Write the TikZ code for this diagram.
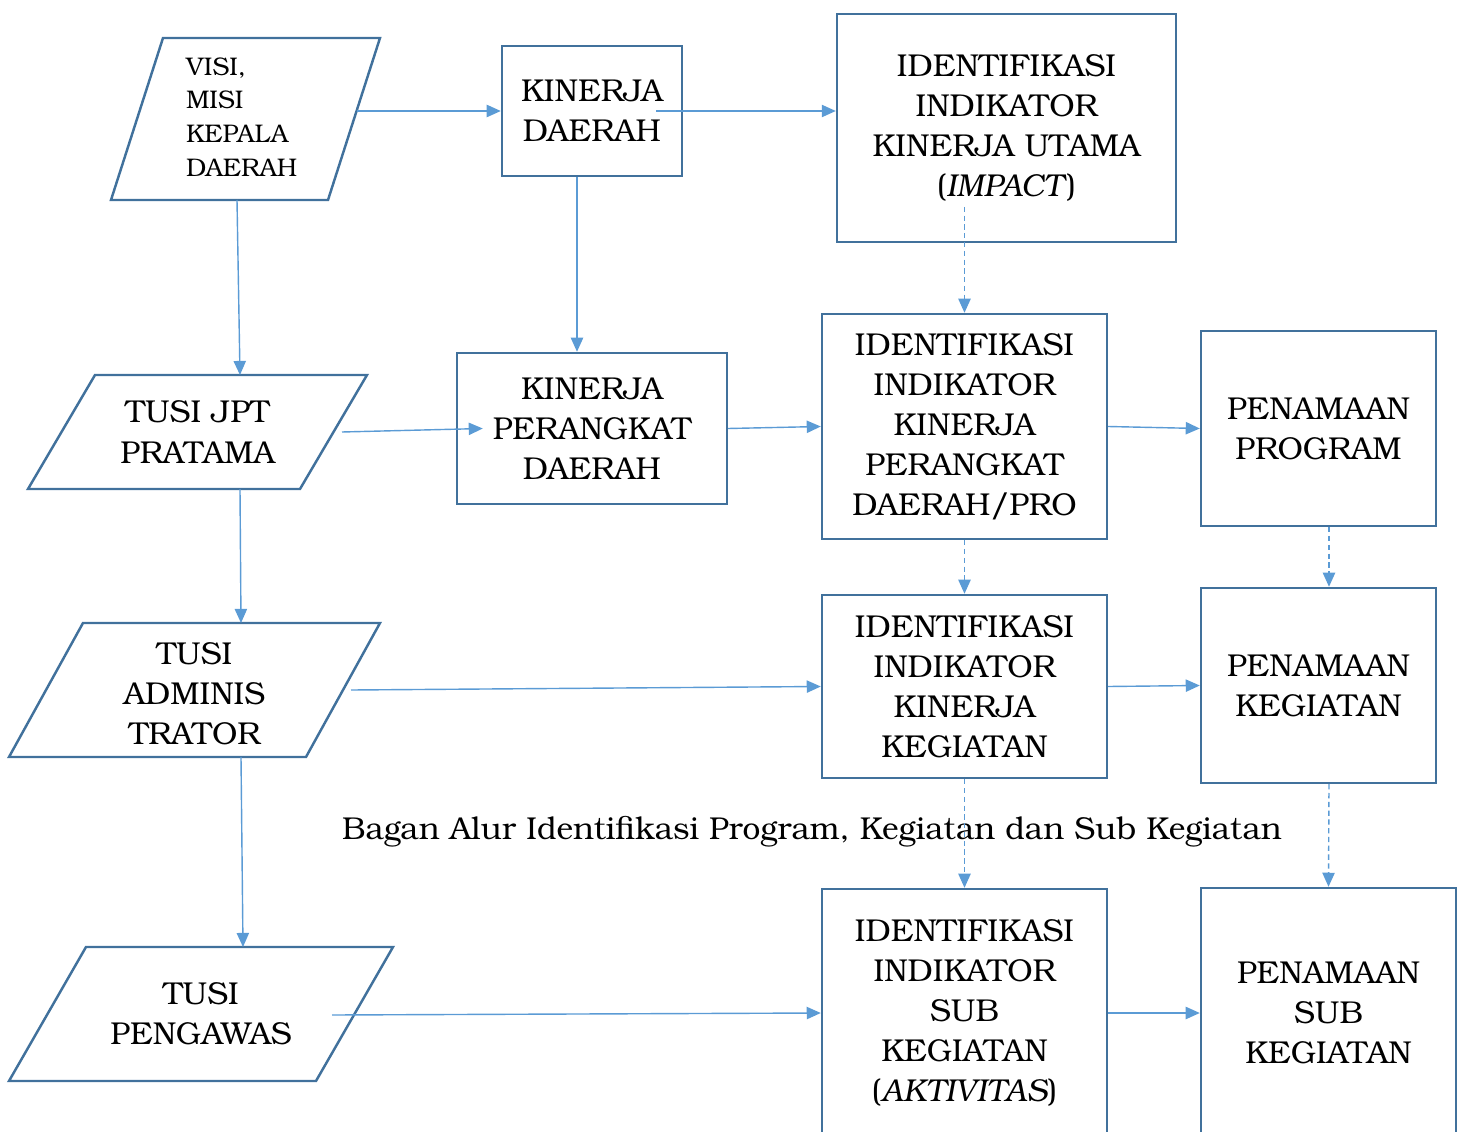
\documentclass[tikz,border=0pt]{standalone}
\usepackage{fontspec}
\setmainfont{TeX Gyre Bonum}
\usetikzlibrary{calc}
\usetikzlibrary{arrows.meta}
\definecolor{boxblue}{RGB}{65,113,156}
\definecolor{linkblue}{RGB}{91,155,213}
\tikzset{
 garis/.style={draw=boxblue, line width=1.4pt},
 kotak/.style={garis, rectangle, inner sep=0, align=center},
 tekspar/.style={inner sep=0, align=center},
 alur/.style={linkblue, line width=0.8pt, -{Triangle[length=8pt,width=7pt]}},
 alurputus/.style={alur, dash pattern=on 3pt off 2pt},
}

\begin{document}
\begin{tikzpicture}[x=0.02cm, y=-0.02cm, font=\fontsize{18}{22.8}\selectfont]
\useasboundingbox (0,0) rectangle (1465,1132);
\foreach \cx/\cy/\w/\h/\s in {245.5/119/217/162/52, 197.5/432/272/114/67, 194.5/690/297/134/74, 201/1014/307/134/77}
 \draw[garis] ({\cx-\w/2+\s/2},{\cy-\h/2}) -- ({\cx+\w/2+\s/2},{\cy-\h/2}) -- ({\cx+\w/2-\s/2},{\cy+\h/2}) -- ({\cx-\w/2-\s/2},{\cy+\h/2}) -- cycle;
\node[tekspar, text width=2.38cm, align=left, font=\fontsize{14.5}{19.2}\selectfont] (visi) at (245.5,117) {VISI,\\MISI\\KEPALA\\DAERAH};
\node[tekspar] (tjpt) at (197.5,432) {TUSI JPT\\PRATAMA};
\node[tekspar] (tadm) at (194.5,694) {TUSI\\ADMINIS\\TRATOR};
\node[tekspar] (tpeng) at (201,1014) {TUSI\\PENGAWAS};

\node[kotak, minimum width=3.6cm, minimum height=2.6cm] (kd) at (592,111) {KINERJA\\DAERAH};
\node[kotak, minimum width=6.78cm, minimum height=4.56cm] (iku) at (1006.5,128) {IDENTIFIKASI\\INDIKATOR\\KINERJA UTAMA\\(\textit{IMPACT})};
\node[kotak, minimum width=5.4cm, minimum height=3.02cm] (kpd) at (592,428.5) {KINERJA\\PERANGKAT\\DAERAH};
\node[kotak, minimum width=5.7cm, minimum height=4.5cm] (ipd) at (964.5,426.5) {IDENTIFIKASI\\INDIKATOR\\KINERJA\\PERANGKAT\\DAERAH/PRO};
\node[kotak, minimum width=4.7cm, minimum height=3.9cm] (pp) at (1318.5,428.5) {PENAMAAN\\PROGRAM};
\node[kotak, minimum width=5.7cm, minimum height=3.66cm] (ik) at (964.5,686.5) {IDENTIFIKASI\\INDIKATOR\\KINERJA\\KEGIATAN};
\node[kotak, minimum width=4.7cm, minimum height=3.9cm] (pk) at (1318.5,685.5) {PENAMAAN\\KEGIATAN};
\node[kotak, minimum width=5.7cm, minimum height=4.96cm] (isk) at (964.5,1013) {IDENTIFIKASI\\INDIKATOR\\SUB\\KEGIATAN\\(\textit{AKTIVITAS})};
\node[kotak, minimum width=5.1cm, minimum height=5cm] (psk) at (1328.5,1013) {PENAMAAN\\SUB\\KEGIATAN};

\node (judul) at (812,832) {Bagan Alur Identifikasi Program, Kegiatan dan Sub Kegiatan};

\draw[alur] ($(visi)+(111.5,-6)$) -- (kd.west);
\draw[alur] ($(kd.east)+(-27,0)$) -- (kd.east -| iku.west);
\draw[alur] ($(visi)+(-8.5,83)$) -- ($(tjpt)+(42.5,-57)$);
\draw[alur] ($(kd.south)+(-15,0)$) -- ($(kpd.north)+(-15,0)$);
\draw[alur] ($(tjpt)+(144.5,0)$) -- ($(kpd.west)+(27,0)$);
\draw[alur] (kpd.east) -- (ipd.west);
\draw[alur] (ipd.east) -- (pp.west);
\draw[alur] ($(tjpt)+(42.5,57)$) -- ($(tadm)+(46.5,-71)$);
\draw[alur] ($(tadm)+(156.5,-4)$) -- (ik.west);
\draw[alur] (ik.east) -- (pk.west);
\draw[alur] ($(tadm)+(46.5,63)$) -- ($(tpeng)+(42,-67)$);
\draw[alur] ($(tpeng)+(131,1)$) -- (isk.west);
\draw[alur] (isk.east) -- (psk.west);

\draw[alurputus] ($(ipd.north)+(0,-106)$) -- (ipd.north);
\foreach \a/\b in {ipd/ik, ik/isk}
 \draw[alurputus] (\a.south) -- (\b.north);
\draw[alurputus] ($(pp.south)+(10.5,0)$) -- ($(pk.north)+(10.5,0)$);
\draw[alurputus] ($(pk.south)+(10.5,0)$) -- (psk.north);
\end{tikzpicture}
\end{document}
